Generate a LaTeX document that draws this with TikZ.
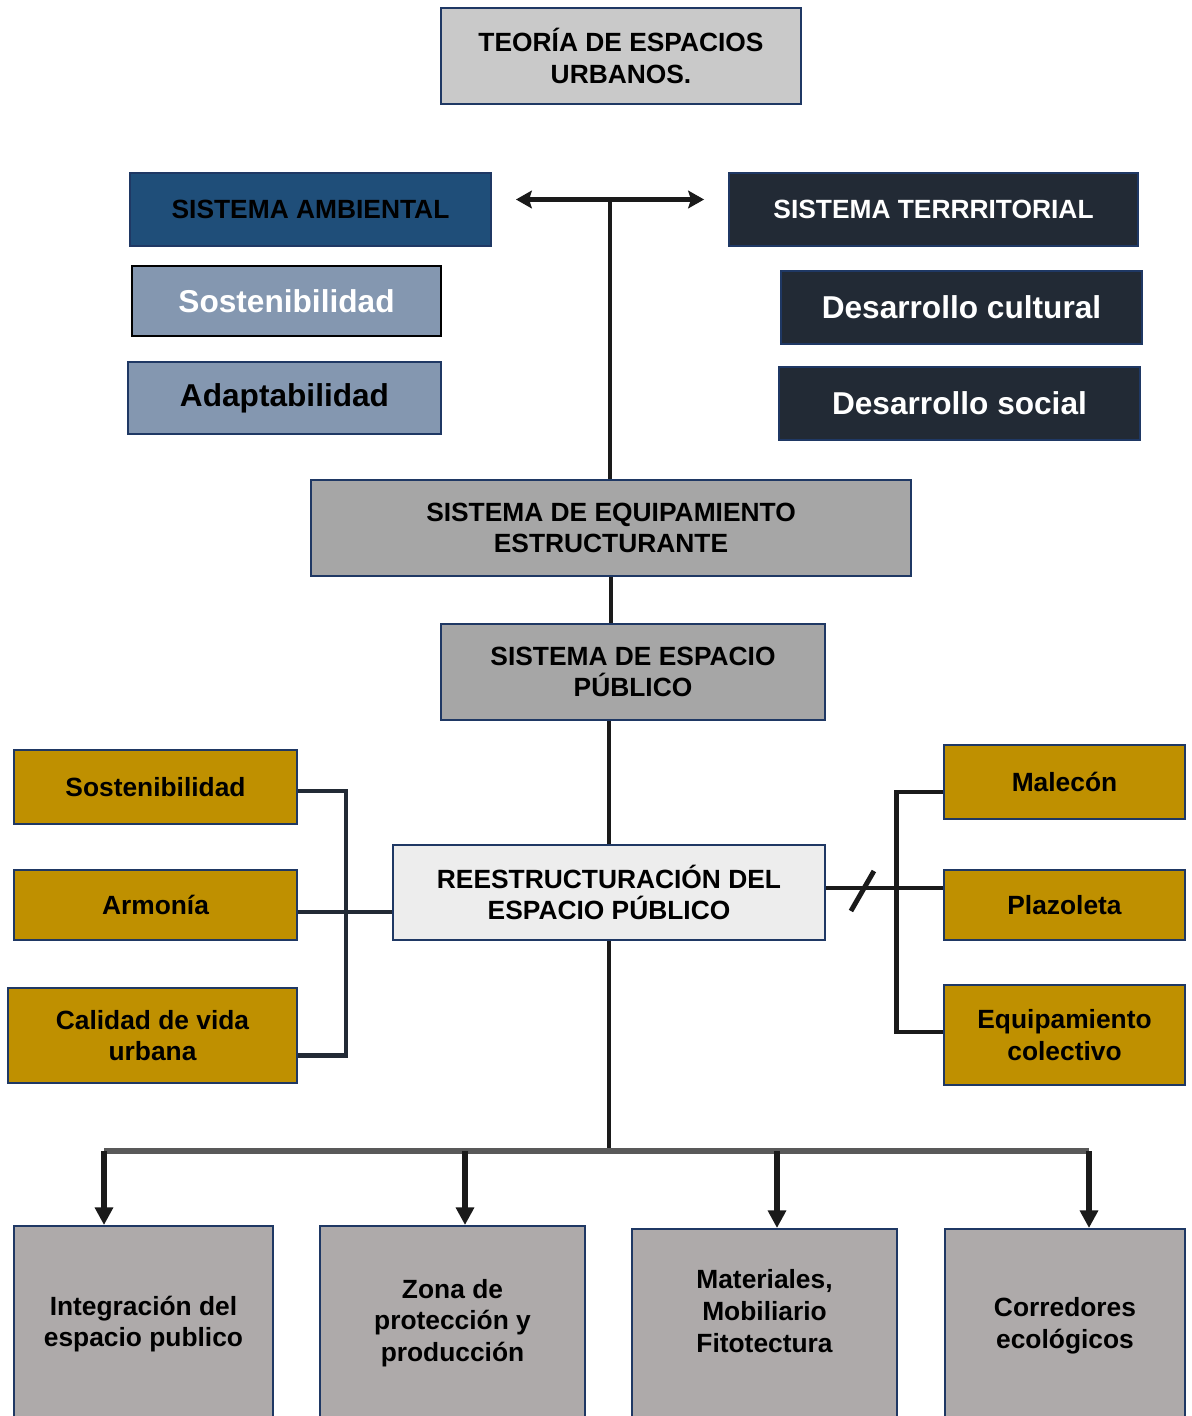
\documentclass[tikz,border=0pt]{standalone}
\usepackage{fontspec}
\setmainfont{Liberation Sans}
\usepackage{xcolor}
\definecolor{navy}{HTML}{1F3864}
\definecolor{paleGray}{HTML}{C9C9C9}
\definecolor{oceanBlue}{HTML}{1F4E79}
\definecolor{slateBlue}{HTML}{8497B0}
\definecolor{nightBlue}{HTML}{222A35}
\definecolor{midGray}{HTML}{A6A6A6}
\definecolor{softGray}{HTML}{EDEDED}
\definecolor{ochre}{HTML}{BF9000}
\definecolor{warmGray}{HTML}{AEAAAA}
\definecolor{busGray}{HTML}{595959}
\definecolor{ink}{HTML}{1A1A1A}
\usetikzlibrary{arrows.meta, calc}

\begin{document}
\begin{tikzpicture}[x=0.02cm, y=-0.02cm,
  every node/.style={font=\bfseries\fontsize{15}{18}\selectfont, align=center, inner sep=0pt},
  box/.style={draw=navy, line width=1.1pt},
  titlebox/.style={box, fill=paleGray},
  greybox/.style={box, fill=midGray},
  ambbox/.style={box, fill=slateBlue, font=\bfseries\fontsize{18}{22}\selectfont},
  terbox/.style={box, fill=nightBlue, text=white, font=\bfseries\fontsize{18}{22}\selectfont},
  goldbox/.style={box, fill=ochre},
  basebox/.style={box, fill=warmGray, anchor=north, minimum height=4.3cm},
  link/.style={line width=2.8pt, color=ink},
  sidelink/.style={line width=2.3pt, color=nightBlue},
  bus/.style={line width=3pt, color=busGray},
  drop/.style={line width=3pt, color=ink, -{Triangle[length=10pt, width=10pt]}},
  twoway/.style={link, {Stealth[length=9pt, width=10pt, inset=1.5pt]}-{Stealth[length=9pt, width=10pt, inset=1.5pt]}},
]
\useasboundingbox (0,0) rectangle (1191,1416);

\node[titlebox, minimum width=7.2cm, minimum height=1.92cm] (teoria) at (621,56) {TEORÍA DE ESPACIOS\\URBANOS.};

\node[box, fill=oceanBlue, minimum width=7.22cm, minimum height=1.46cm] (ambiental) at (310.5,209.5) {SISTEMA AMBIENTAL};
\node[ambbox, draw=black, text=white, minimum width=6.18cm, minimum height=1.4cm] (sosten) at (286.5,301) {Sostenibilidad};
\node[ambbox, minimum width=6.26cm, minimum height=1.44cm] (adapt) at (284.5,398) {Adaptabilidad};

\node[box, fill=nightBlue, text=white, minimum width=8.18cm, minimum height=1.46cm] (territorial) at (933.5,209.5) {SISTEMA TERRRITORIAL};
\node[terbox, minimum width=7.22cm, minimum height=1.46cm] (cultural) at (961.5,307.5) {Desarrollo cultural};
\node[terbox, minimum width=7.22cm, minimum height=1.46cm] (social) at (959.5,403.5) {Desarrollo social};

\node[greybox, minimum width=12cm, minimum height=1.92cm] (equip) at (611,528) {SISTEMA DE EQUIPAMIENTO\\ESTRUCTURANTE};
\node[greybox, minimum width=7.68cm, minimum height=1.92cm] (espacio) at (633,672) {SISTEMA DE ESPACIO\\PÚBLICO};
\node[box, fill=softGray, minimum width=8.64cm, minimum height=1.9cm] (reest) at (609,892.5) {REESTRUCTURACIÓN DEL\\ESPACIO PÚBLICO};

\node[goldbox, minimum width=5.66cm, minimum height=1.48cm] (lsost) at (155.5,787) {Sostenibilidad};
\node[goldbox, minimum width=5.66cm, minimum height=1.4cm] (armonia) at (155.5,905) {Armonía};
\node[goldbox, minimum width=5.78cm, minimum height=1.9cm] (calidad) at (152.5,1035.5) {Calidad de vida\\urbana};

\node[goldbox, minimum width=4.82cm, minimum height=1.48cm] (malecon) at (1064.5,782) {Malecón};
\node[goldbox, minimum width=4.82cm, minimum height=1.4cm] (plazoleta) at (1064.5,905) {Plazoleta};
\node[goldbox, minimum width=4.82cm, minimum height=2cm] (equipcol) at (1064.5,1035) {Equipamiento\\colectivo};

\node[basebox, minimum width=5.18cm] (integ) at (143.5,1225) {};
\node[basebox, minimum width=5.3cm] (zona) at (452.5,1225) {};
\node[basebox, minimum width=5.3cm] (mater) at (764.5,1228) {};
\node[basebox, minimum width=4.8cm] (corred) at (1065,1228) {};
\node (integ-t) at ($(integ.north)+(0,99)$) {Integración del\\espacio publico};
\node (zona-t) at ($(zona.north)+(0,98)$) {Zona de\\protección y\\producción};
\node (mater-t) at ($(mater.north)+(0,83)$) {Materiales,\\Mobiliario\\Fitotectura};
\node (corred-t) at ($(corred.north)+(0,98)$) {Corredores\\ecológicos};

% trunk
\coordinate (tl) at ($(ambiental.east)+(24,-10)$);
\coordinate (tr) at ($(territorial.west)+(-24,-10)$);
\coordinate (tj) at ($(tl)!0.5!(tr)$);
\draw[twoway] (tl) -- (tr);
\draw[link] (tj) -- (tj |- equip.north);
\draw[link] (equip.south) -- (equip.south |- espacio.north);
\draw[link] (reest.north |- espacio.south) -- (reest.north);

% left branch
\coordinate (la) at ($(armonia.east)+(0,7)$);
\draw[sidelink] (la) -- (la -| reest.west);
\draw[sidelink] ($(lsost.east)+(0,4)$) -| ($(calidad.east)+(48,20)$) -- ($(calidad.east)+(0,20)$);

% right branch
\coordinate (rp) at ($(reest.east)+(0,-4.5)$);
\draw[link] (rp) -- (rp -| plazoleta.west);
\draw[link] ($(malecon.west)+(0,10)$) -| ($(equipcol.west)+(-47,-3)$) -- ($(equipcol.west)+(0,-3)$);
\draw[link] ($(rp)+(25,23)$) -- ($(rp)+(48,-17)$);

% bottom bus
\coordinate (bus1) at (104,1151);
\coordinate (bus2) at (465,1151);
\coordinate (bus3) at (777,1151);
\coordinate (bus4) at (1089,1151);
\draw[link] (reest.south) -- (reest.south |- bus1);
\draw[bus] (bus1) -- (bus4);
\draw[drop] (bus1) -- (bus1 |- integ.north);
\draw[drop] (bus2) -- (bus2 |- zona.north);
\draw[drop] (bus3) -- (bus3 |- mater.north);
\draw[drop] (bus4) -- (bus4 |- corred.north);

\end{tikzpicture}
\end{document}
